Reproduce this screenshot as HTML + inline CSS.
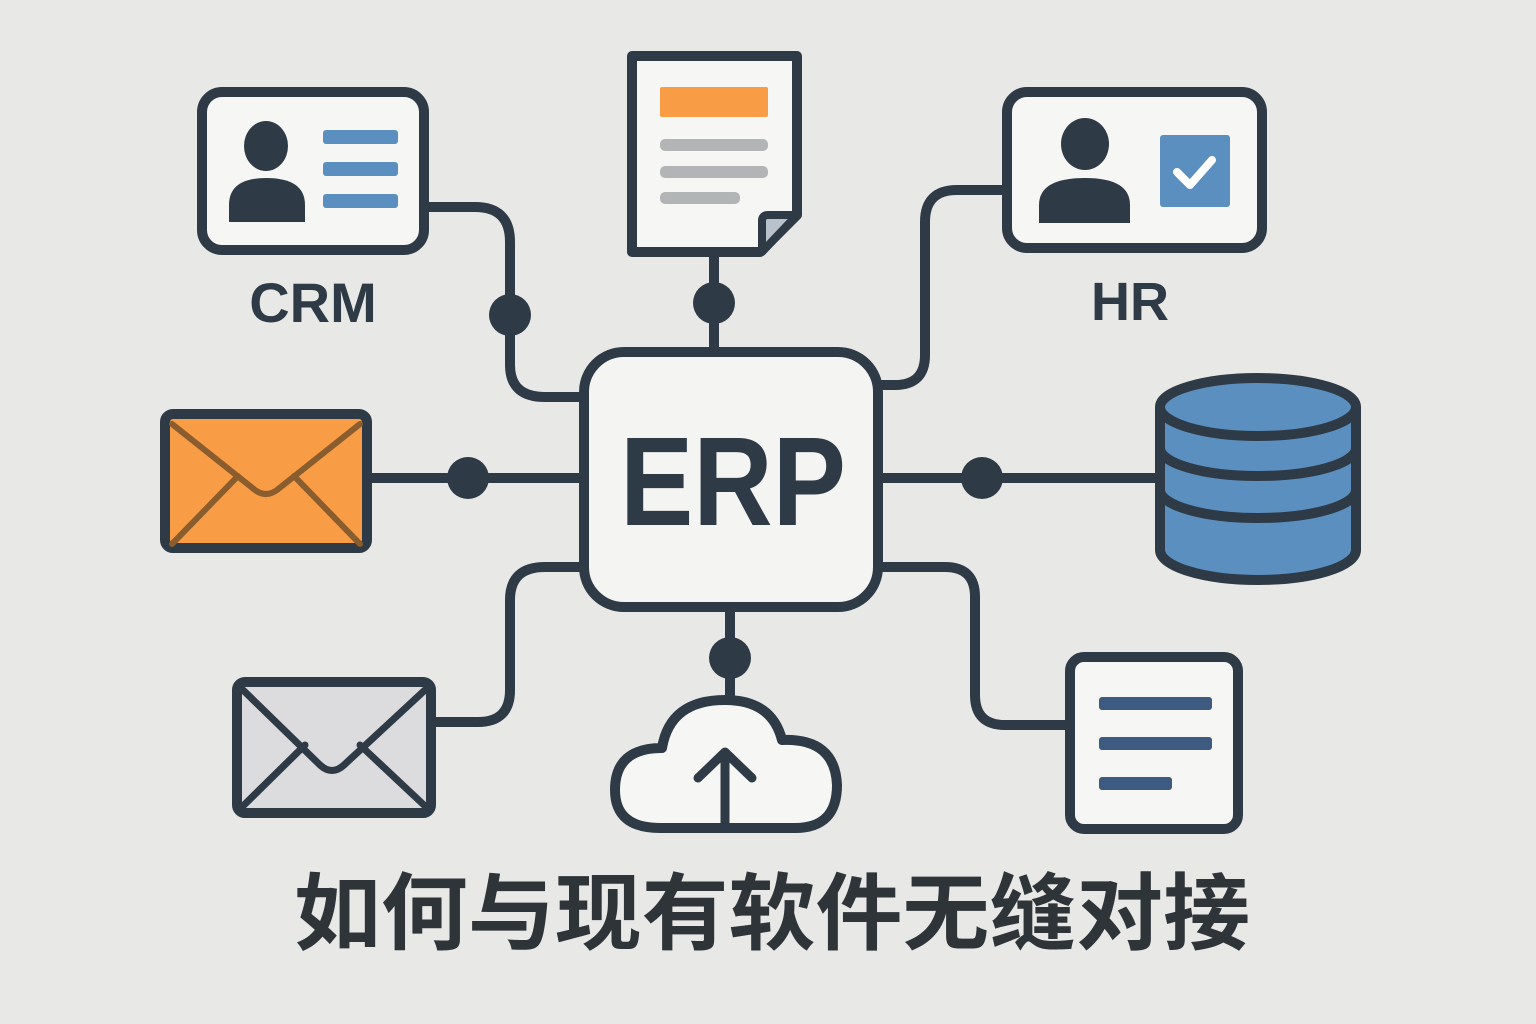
<!DOCTYPE html>
<html><head><meta charset="utf-8"><style>
html,body{margin:0;padding:0;background:#e8e8e7}
svg{display:block}
</style></head><body>
<svg width="1536" height="1024" viewBox="0 0 1536 1024" xmlns="http://www.w3.org/2000/svg">
<rect width="1536" height="1024" fill="#e8e8e7"/>
<g fill="none" stroke="#2e3a45" stroke-width="10" stroke-linejoin="round">
 <path d="M425 207 H475 Q510 207 510 242 V365 Q510 397 545 397 H585"/>
 <path d="M714 255 V352"/>
 <path d="M878 385 H895 Q925 385 925 355 V222 Q925 190 957 190 H1005"/>
 <path d="M368 478 H585"/>
 <path d="M878 478 H1160"/>
 <path d="M583 567 H545 Q510 567 510 600 V690 Q510 722 478 722 H432"/>
 <path d="M730 608 V700"/>
 <path d="M878 567 H945 Q975 567 975 597 V695 Q975 725 1005 725 H1068"/>
</g>
<g fill="#2e3a45">
 <circle cx="510" cy="315" r="21"/>
 <circle cx="714" cy="303" r="21"/>
 <circle cx="468" cy="478" r="21"/>
 <circle cx="982" cy="478" r="21"/>
 <circle cx="730" cy="658" r="21"/>
</g>
<rect x="202" y="92" width="222" height="158" rx="20" fill="#f6f6f4" stroke="#2e3a45" stroke-width="10"/>
<ellipse cx="266" cy="146" rx="22" ry="25" fill="#2e3a45"/>
<path d="M229 222 V205 Q229 178 266 178 Q305 178 305 205 V222 Z" fill="#2e3a45"/>
<g fill="#5b8fbf"><rect x="323" y="130" width="75" height="14" rx="3"/><rect x="323" y="162" width="75" height="14" rx="3"/><rect x="323" y="194" width="75" height="14" rx="3"/></g>
<text x="313" y="322" text-anchor="middle" font-family="Liberation Sans, sans-serif" font-weight="bold" font-size="56" fill="#2e3a45">CRM</text>
<path d="M632 56 H797 V215 L760 252 H632 Z" fill="#f6f6f4" stroke="#2e3a45" stroke-width="10" stroke-linejoin="round"/>
<path d="M797 215 H768 Q762 215 762 221 V252 Z" fill="#b8c2cc" stroke="#2e3a45" stroke-width="8" stroke-linejoin="round"/>
<rect x="660" y="87" width="108" height="30" rx="2" fill="#f99c46"/>
<g fill="#b3b4b5"><rect x="660" y="139" width="108" height="12" rx="5"/><rect x="660" y="166" width="108" height="12" rx="5"/><rect x="660" y="192" width="80" height="12" rx="5"/></g>
<rect x="1007" y="92" width="255" height="156" rx="20" fill="#f6f6f4" stroke="#2e3a45" stroke-width="10"/>
<ellipse cx="1085" cy="144" rx="24" ry="26" fill="#2e3a45"/>
<path d="M1039 223 V205 Q1039 178 1085 178 Q1130 178 1130 205 V223 Z" fill="#2e3a45"/>
<rect x="1160" y="135" width="70" height="72" rx="3" fill="#5b8fbf"/>
<path d="M1177 172 L1190 185 L1212 160" fill="none" stroke="#fff" stroke-width="8" stroke-linecap="round" stroke-linejoin="round"/>
<text x="1130" y="320" text-anchor="middle" font-family="Liberation Sans, sans-serif" font-weight="bold" font-size="54" fill="#2e3a45">HR</text>
<rect x="584" y="352" width="294" height="255" rx="40" fill="#f4f4f2" stroke="#2e3a45" stroke-width="10"/>
<text x="620" y="525" textLength="226" lengthAdjust="spacingAndGlyphs" font-family="Liberation Sans, sans-serif" font-weight="bold" font-size="126" fill="#2e3a45">ERP</text>
<rect x="165" y="414" width="202" height="134" rx="8" fill="#f99c46" stroke="#2e3a45" stroke-width="10"/>
<path d="M172 424 L255 490 Q266 498 277 490 L360 424 M172 544 L238 476 M360 544 L294 476" fill="none" stroke="#8a5d2e" stroke-width="6" stroke-linecap="round"/>
<g stroke="#2e3a45" stroke-width="10" fill="#5b8fbf">
 <path d="M1160 407 V550 A98 30 0 0 0 1356 550 V407"/>
 <path d="M1160 490 A98 28 0 0 0 1356 490" fill="none"/>
 <path d="M1160 448 A98 28 0 0 0 1356 448" fill="none"/>
 <ellipse cx="1258" cy="407" rx="98" ry="29"/>
</g>
<rect x="237" y="682" width="194" height="131" rx="8" fill="#dcdcde" stroke="#2e3a45" stroke-width="10"/>
<path d="M243 690 L320 765 Q332 776 344 765 L425 690 M243 806 L305 745 M425 806 L360 745" fill="none" stroke="#2e3a45" stroke-width="7" stroke-linecap="round"/>
<path d="M660 828 Q615 828 615 790 Q615 748 662 748 Q670 700 725 700 Q772 700 782 740 Q835 738 837 785 Q837 828 795 828 Z" fill="#f6f6f4" stroke="#2e3a45" stroke-width="10" stroke-linejoin="round"/>
<path d="M725 828 V752 M698 778 L725 752 L752 778" fill="none" stroke="#2e3a45" stroke-width="9" stroke-linecap="round" stroke-linejoin="round"/>
<rect x="1070" y="657" width="168" height="172" rx="14" fill="#f6f6f4" stroke="#2e3a45" stroke-width="10"/>
<g fill="#3d5a80"><rect x="1099" y="697" width="113" height="13" rx="3"/><rect x="1099" y="737" width="113" height="13" rx="3"/><rect x="1099" y="777" width="73" height="13" rx="3"/></g>
<text x="294" y="943" textLength="956" lengthAdjust="spacingAndGlyphs" font-family="Liberation Sans, 'Noto Sans CJK SC', sans-serif" font-weight="bold" font-size="84" fill="#2f3438">如何与现有软件无缝对接</text>
</svg>
</body></html>
